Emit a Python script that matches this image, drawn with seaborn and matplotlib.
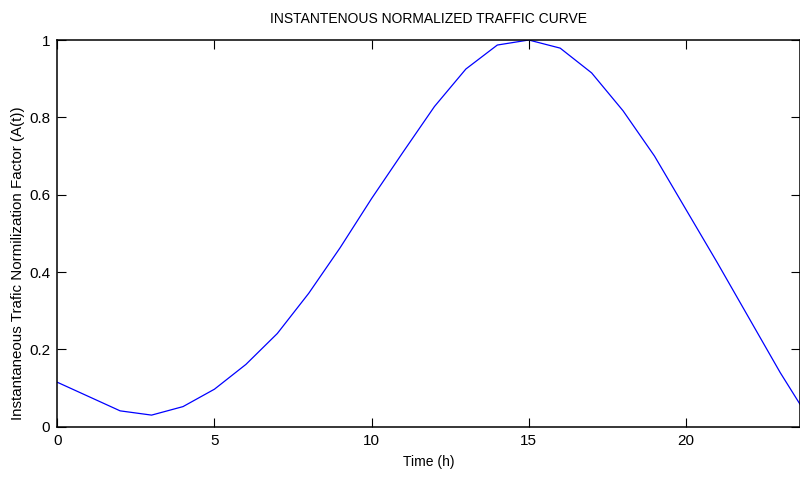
#Instantaneous normalized traffic curve_____________________________________

import numpy as np
import pandas as pd
import seaborn as sns
import matplotlib.pyplot as plt

#Hourly values
hours = [0, 1, 2, 3, 4, 5, 6, 7, 8, 9, 10, 11, 12,
         13, 14, 15, 16, 17, 18, 19, 20, 21, 22, 23, 24]
traffic = [0.115, 0.078, 0.041, 0.030, 0.052, 0.097, 0.161, 0.241, 0.345,
           0.463, 0.590, 0.710, 0.828, 0.925, 0.987, 1.000, 0.979, 0.915,
           0.817, 0.700, 0.562, 0.424, 0.282, 0.140, 0.010]
xticks = [0, 5, 10, 15, 20]
yticks = [0, 0.2, 0.4, 0.6, 0.8, 1]
ytick_labels = ['0', '0.2', '0.4', '0.6', '0.8', '1']

traffic_df = pd.DataFrame({'hour': hours, 'A': traffic})

sns.set_style('ticks')
plt.rcParams['font.family'] = ['Liberation Sans Narrow', 'Liberation Sans', 'DejaVu Sans']
plt.rcParams['text.color'] = 'black'
plt.rcParams['axes.labelcolor'] = 'black'

fig = plt.figure(figsize=(8, 4.78), dpi=100)
ax = fig.add_axes([0.0716, 0.1073, 0.9284, 0.809])

sns.lineplot(data=traffic_df, x='hour', y='A', ax=ax, color='#0000ff', linewidth=0.9)

ax.set_xlim([0, 23.63])
ax.set_ylim([0, 1])
ax.set_xticks(xticks)
ax.set_xticklabels([str(t) for t in xticks])
ax.set_yticks(yticks)
ax.set_yticklabels(ytick_labels)

#MATLAB style box with inward ticks on every side
for side in ['top', 'right', 'left', 'bottom']:
    ax.spines[side].set_visible(True)
    ax.spines[side].set_linewidth(1.1)
    ax.spines[side].set_color('black')
ax.tick_params(direction='in', length=6.5, width=0.8, top=True, right=True,
               labelsize=11, pad=5, colors='black')

ax.set_title('INSTANTENOUS NORMALIZED TRAFFIC CURVE', fontsize=10, pad=12, color='black')
ax.set_xlabel('Time (h)', fontsize=10, labelpad=5)
ax.set_ylabel('Instantaneous Trafic Normilization Factor (A(t))',
              fontsize=10.9, family=['Liberation Sans', 'DejaVu Sans'])
ax.yaxis.set_label_coords(-0.0435, 0.424)

fig.savefig('out.png', dpi=100)
